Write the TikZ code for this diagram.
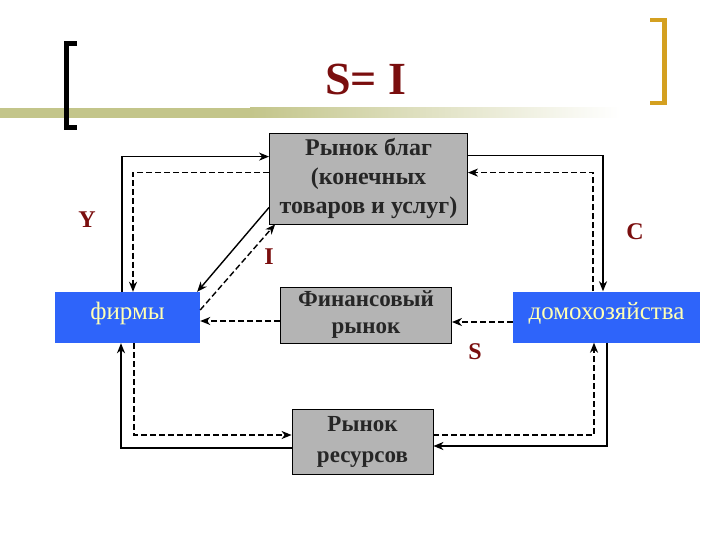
\documentclass[tikz,border=0pt]{standalone}
\usepackage{fontspec}
\setmainfont{Liberation Serif}
\usepackage{tikz}
\usepackage{xcolor}
\usetikzlibrary{arrows.meta,calc,positioning}
\definecolor{royal}{HTML}{2E64FA}
\definecolor{ashgray}{HTML}{B4B4B4}
\definecolor{inkgray}{HTML}{262626}
\definecolor{paleyellow}{HTML}{FFFFB4}
\definecolor{maroon}{HTML}{7A0E0E}
\definecolor{olivebar}{HTML}{C3C58A}
\definecolor{goldbar}{HTML}{D4A020}

\tikzset{
    graybox/.style={draw=black, line width=0.8pt, fill=ashgray, text=inkgray,
        font=\fontsize{24}{29}\selectfont\bfseries, align=center, inner sep=0pt},
    bluebox/.style={fill=royal, text=paleyellow, text height=16pt, text depth=12pt,
        font=\fontsize{25}{29}\selectfont, align=center, inner sep=0pt},
    flowline/.style={-{Stealth[length=10pt,width=8pt,inset=3pt]}, line width=1.4pt, black},
    flowdash/.style={flowline, dash pattern=on 6pt off 3pt},
    flowlabel/.style={text=maroon, font=\fontsize{24}{28}\selectfont\bfseries}
}

\begin{document}
\begin{tikzpicture}[x=1pt,y=-1pt]
    \useasboundingbox (0,0) rectangle (720,540);

    % Title bar
    \fill[olivebar] (0,108) rectangle (250,118);
    \shade[left color=olivebar, right color=white] (250,108) rectangle (620,118);
    \draw[line width=5pt, black, miter limit=10] (77,44) -- (66.5,44) -- (66.5,128) -- (77,128);
    \draw[line width=4.5pt, goldbar, miter limit=10] (650,20) -- (664.5,20) -- (664.5,103) -- (650,103);
    \node[text=maroon, font=\fontsize{46}{50}\selectfont\bfseries] (title) at (366,79) {S= I};

    % Markets and agents
    \node[graybox, minimum width=198pt, minimum height=91pt] (goods) at (368.5,178.5)
        {Рынок благ\\(конечных\\товаров и услуг)};
    \node[bluebox, minimum width=145pt, minimum height=51pt] (firms) at (127.5,317.5) {фирмы};
    \node[graybox, font=\fontsize{23}{27}\selectfont\bfseries, minimum width=171pt, minimum height=56pt]
        (finance) at (366,315) {Финансовый\\рынок};
    \node[bluebox, minimum width=187pt, minimum height=51pt] (house) at (606.5,317) {домохозяйства};
    \node[graybox, font=\fontsize{23}{31}\selectfont\bfseries, minimum width=141pt, minimum height=65pt]
        (res) at (362.5,441.5) {Рынок\\ресурсов};

    % Goods market loops
    \draw[flowline] ([xshift=-5.5pt]firms.north) |- ([yshift=-24pt]goods.north west);
    \draw[flowdash] ([yshift=-40pt]goods.north west) -| ([xshift=5.5pt]firms.north);
    \draw[flowline] ([yshift=17pt]goods.south west) -- ([xshift=-3pt]firms.north east);
    \draw[flowdash] ([yshift=7.5pt]firms.east) -- ([xshift=6pt]goods.south west);
    \draw[flowline] ([yshift=-23pt]goods.north east) -| ([xshift=-3.5pt]house.north);
    \draw[flowdash] ([xshift=-13.5pt]house.north) |- ([yshift=-40pt]goods.north east);

    % Savings through the financial market
    \coordinate (hs) at ([yshift=-5pt]house.west);
    \coordinate (fs) at ([yshift=-6pt]finance.west);
    \draw[flowdash] (hs) -- (hs -| finance.east);
    \draw[flowdash] (fs) -- (fs -| firms.east);

    % Resource market loops
    \draw[flowline] ([yshift=-6.5pt]res.west) -| ([xshift=-6.5pt]firms.south);
    \draw[flowdash] ([xshift=6.5pt]firms.south) |- ([yshift=6.5pt]res.west);
    \draw[flowdash] ([yshift=6.5pt]res.east) -| ([xshift=-12.5pt]house.south);
    \draw[flowline] ([xshift=0.5pt]house.south) |- ([yshift=-4.5pt]res.east);

    % Labels
    \node[flowlabel] (lblY) at (87,220) {Y};
    \node[flowlabel] (lblI) at (269,257) {I};
    \node[flowlabel] (lblC) at (635,232) {C};
    \node[flowlabel] (lblS) at (475,352) {S};

\end{tikzpicture}
\end{document}
